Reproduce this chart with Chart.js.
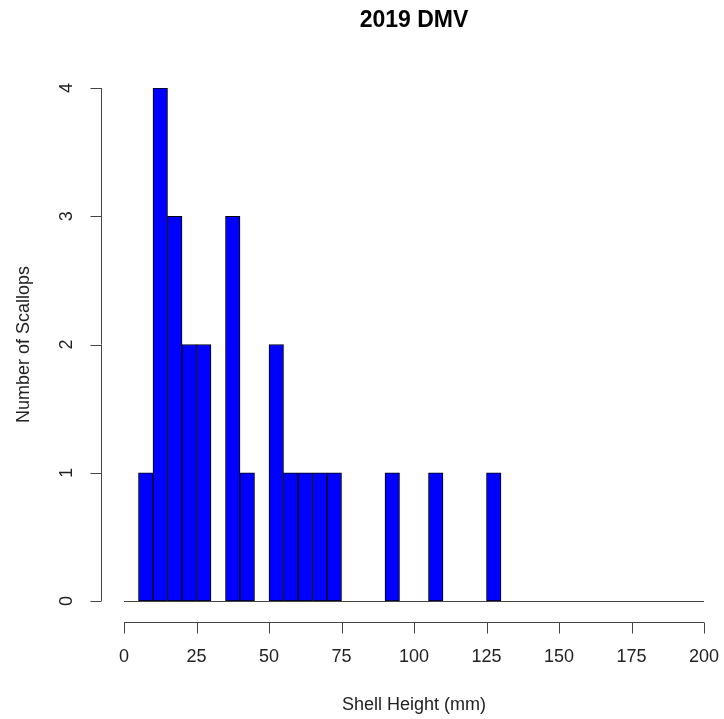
<!DOCTYPE html>
<html>
<head>
<meta charset="utf-8">
<script src="https://cdn.jsdelivr.net/npm/chart.js@4"></script>
<style>
  html, body { margin: 0; padding: 0; background: #fff; }
  #hist { display: block; }
</style>
</head>
<body>
<canvas id="hist" width="724" height="719"></canvas>
<script>
// bin edges (mm) and scallop counts per 5 mm bin
const breaks = [5, 10, 15, 20, 25, 30, 35, 40, 45, 50, 55, 60, 65, 70, 75,
                80, 85, 90, 95, 100, 105, 110, 115, 120, 125, 130];
const counts = [1, 4, 3, 2, 2, 0, 3, 1, 0, 2, 1, 1, 1, 1, 0,
                0, 0, 1, 0, 0, 1, 0, 0, 0, 1];
const xTicks = [0, 25, 50, 75, 100, 125, 150, 175, 200];
const yTicks = [0, 1, 2, 3, 4];

const titulo = '2019 DMV';
const tituloX = 'Shell Height (mm)';
const tituloY = 'Number of Scallops';

const puntos = counts.map((c, i) => ({
    x: (breaks[i] + breaks[i + 1]) / 2,
    y: c > 0 ? c : null
}));

const fuente = '"Liberation Sans", Arial, sans-serif';

// base-R style axes: detached from the plot region, line only spans the ticks
const ejesR = {
    id: 'ejesR',
    afterDatasetsDraw(chart) {
        const ctx = chart.ctx;
        const sx = chart.scales.x;
        const sy = chart.scales.y;
        const px = v => sx.getPixelForValue(v);
        const py = v => sy.getPixelForValue(v);

        ctx.save();
        ctx.strokeStyle = '#444';
        ctx.lineWidth = 1;

        // zero line under the bars
        ctx.beginPath();
        ctx.moveTo(px(0), Math.round(py(0)) + 0.5);
        ctx.lineTo(px(200), Math.round(py(0)) + 0.5);
        ctx.stroke();

        // x axis
        const ax = Math.round(py(-0.16)) + 0.5;
        ctx.beginPath();
        ctx.moveTo(px(xTicks[0]), ax);
        ctx.lineTo(px(xTicks[xTicks.length - 1]), ax);
        xTicks.forEach(t => {
            const x = Math.round(px(t)) + 0.5;
            ctx.moveTo(x, ax);
            ctx.lineTo(x, ax + 11);
        });
        ctx.stroke();

        // y axis
        const ay = Math.round(px(-8)) + 0.5;
        ctx.beginPath();
        ctx.moveTo(ay, py(yTicks[0]));
        ctx.lineTo(ay, py(yTicks[yTicks.length - 1]));
        yTicks.forEach(t => {
            const y = Math.round(py(t)) + 0.5;
            ctx.moveTo(ay, y);
            ctx.lineTo(ay - 11, y);
        });
        ctx.stroke();

        ctx.fillStyle = '#222';
        ctx.font = '18px ' + fuente;
        ctx.textAlign = 'center';
        ctx.textBaseline = 'middle';
        xTicks.forEach(t => ctx.fillText(String(t), px(t), ax + 35));

        yTicks.forEach(t => {
            ctx.save();
            ctx.translate(ay - 34, py(t));
            ctx.rotate(-Math.PI / 2);
            ctx.fillText(String(t), 0, 0);
            ctx.restore();
        });

        // axis titles
        ctx.fillText(tituloX, (px(0) + px(200)) / 2, ax + 83);
        ctx.save();
        ctx.translate(ay - 77, (py(0) + py(4)) / 2);
        ctx.rotate(-Math.PI / 2);
        ctx.fillText(tituloY, 0, 0);
        ctx.restore();

        // main title
        ctx.fillStyle = '#000';
        ctx.font = 'bold 23px ' + fuente;
        ctx.fillText(titulo, (px(0) + px(200)) / 2, 21);
        ctx.restore();
    }
};

const ctx = document.getElementById('hist').getContext('2d');
const chart = new Chart(ctx, {
    type: 'bar',
    data: {
        datasets: [{
            data: puntos,
            backgroundColor: '#0000ff',
            borderColor: '#000',
            borderWidth: 1,
            borderSkipped: false,
            barPercentage: 1,
            categoryPercentage: 1
        }]
    },
    options: {
        responsive: false,
        animation: false,
        layout: { padding: { left: 124, right: 20, top: 88, bottom: 118 } },
        plugins: {
            legend: { display: false },
            tooltip: { enabled: false },
            title: { display: false }
        },
        scales: {
            x: { type: 'linear', min: 0, max: 200, display: false, offset: false },
            y: { min: 0, max: 4, display: false }
        }
    },
    plugins: [ejesR]
});
</script>
</body>
</html>
